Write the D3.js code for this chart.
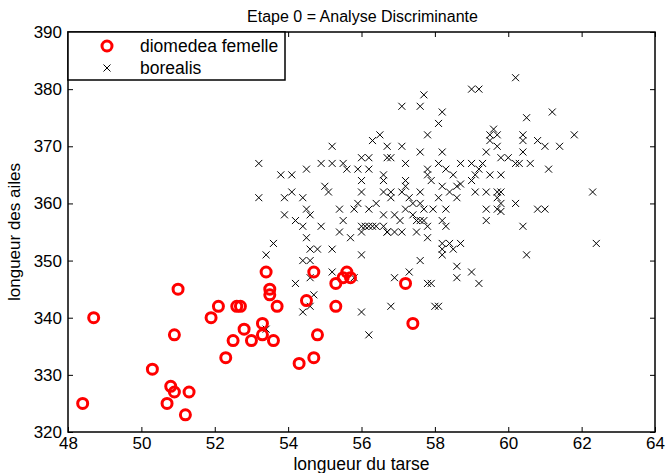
<!DOCTYPE html>
<html>
<head>
<meta charset="utf-8">
<script src="https://cdn.jsdelivr.net/npm/d3@7"></script>
<style>
  html, body { margin: 0; padding: 0; background: #fff; }
  svg { display: block; font-family: "Liberation Sans", Arial, sans-serif; }
</style>
</head>
<body>
<svg id="chart" width="667" height="473"></svg>
<script>
// Tarse length (x) and wing length (y) for the two groups
const femelleX = [48.4, 48.7, 50.3, 50.7, 50.8, 50.9, 50.9, 51.0, 51.2, 51.3, 51.9, 52.1, 52.3, 52.5, 52.6, 52.7, 52.8, 53.0, 53.3, 53.3, 53.4, 53.5, 53.5, 53.6, 53.7, 54.3, 54.5, 54.7, 54.7, 54.8, 55.3, 55.3, 55.5, 55.6, 55.7, 57.2, 57.4];
const femelleY = [325, 340, 331, 325, 328, 327, 337, 345, 323, 327, 340, 342, 333, 336, 342, 342, 338, 336, 339, 337, 348, 345, 344, 336, 342, 332, 343, 333, 348, 337, 346, 342, 347, 348, 347, 346, 339];

const borealisX = [
  56.5, 56.3, 55.2, 53.2, 54.9, 55.2, 55.5, 56.0, 56.2, 54.5, 53.8, 54.1, 55.6, 55.9, 56.2, 56.7, 56.7, 56.6,
  60.2, 59.0, 59.2, 57.7, 57.1, 57.6, 58.2, 58.1, 57.8, 59.6, 59.5, 59.7, 59.5, 59.7, 57.1, 56.8, 57.2, 57.6,
  58.2, 59.4, 59.8, 60.0, 58.1, 58.7, 59.0, 59.3, 60.2, 57.8, 57.8, 58.3, 58.5, 59.2, 59.1, 59.5, 59.8,
  61.2, 60.5, 61.8, 60.4, 60.4, 60.8, 61.0, 61.4, 60.4, 60.3, 60.6, 61.1,
  62.3, 59.8, 60.2, 60.8, 61.0, 60.4, 62.4, 60.5,
  56.0, 56.6, 55.0, 55.1, 56.0, 56.6, 53.2, 53.9, 54.1, 54.4, 55.9, 56.4, 54.5, 55.4, 55.8, 56.2, 53.9, 54.6,
  56.6, 54.2, 55.5, 54.4, 54.9, 56.0, 56.1, 56.2, 56.3, 56.4, 56.6, 56.7, 56.0, 55.4, 55.7, 54.5, 53.6, 54.6,
  54.8, 55.2, 53.4, 56.0, 54.4, 54.6, 55.2, 54.6, 55.8, 54.2, 54.7,
  57.6, 57.3, 58.2, 58.6, 58.6, 56.9, 57.8, 57.9, 54.6, 54.4, 56.0, 56.8, 58.0, 58.1, 56.2, 53.4,
  57.2, 57.2, 57.9, 59.0, 58.7, 58.6, 58.2, 56.8, 57.1, 57.6, 58.4, 59.1, 59.4, 59.7, 56.8, 57.3, 58.1, 58.6,
  59.7, 57.4, 57.6, 57.2, 57.7, 57.95, 58.3, 59.4, 59.7, 56.9, 57.4, 57.05, 57.5, 57.6, 57.7, 58.2, 59.4,
  57.8, 58.3, 56.7, 56.9, 57.1, 57.5, 57.8, 58.2, 58.4, 58.7, 58.2, 58.5, 59.0, 59.2, 59.8, 59.8
];
const borealisY = [
  372, 371, 370, 367, 367, 367, 367, 368, 368, 366, 365, 365, 366, 366, 366, 370, 368, 365,
  382, 380, 380, 379, 377, 377, 376, 374, 372, 373, 372, 372, 371, 370, 370, 368, 367, 369,
  369, 369, 368, 368, 367, 367, 367, 367, 367, 366, 365, 366, 365, 366, 365, 365, 365,
  376, 375, 372, 372, 371, 371, 370, 370, 369, 367, 367, 366,
  362, 360, 360, 359, 359, 356, 353, 351,
  364, 364, 363, 362, 362, 362, 361, 361, 362, 361, 360, 360, 359, 359, 359, 359, 358, 358,
  358, 357, 357, 356, 356, 356, 356, 356, 356, 356, 356, 355, 355, 355, 354, 354, 353, 352,
  352, 352, 351, 351, 350, 350, 348, 347, 347, 346, 344,
  350, 348, 351, 349, 347, 347, 346, 346, 342, 341, 341, 342, 342, 342, 337, 338,
  364, 363, 364, 364, 363.4, 363, 363, 362, 362, 362, 362, 362, 362, 362, 361, 361, 361, 361,
  361, 360, 360, 359, 359, 359, 359, 359, 359, 358, 358, 357, 357, 357, 357, 357, 357,
  356, 356, 355, 355, 355, 355, 354, 353, 353, 353, 352, 352, 348, 346, 362, 358.6
];

const xTicks = [48, 50, 52, 54, 56, 58, 60, 62, 64];
const yTicks = [320, 330, 340, 350, 360, 370, 380, 390];
const seriesNames = ["diomedea femelle", "borealis"];
const titleText = "Etape 0 = Analyse Discriminante";
const xLabel = "longueur du tarse";
const yLabel = "longueur des ailes";

const svg = d3.select("#chart");
const plotL = 68, plotR = 655, plotT = 32, plotB = 432;

const x = d3.scaleLinear().domain([48, 64]).range([plotL, plotR]);
const y = d3.scaleLinear().domain([320, 390]).range([plotB, plotT]);

// Inward ticks on all four sides, MATLAB-style boxed axes
const tickLen = 5;
const axG = svg.append("g");
axG.append("g").attr("transform", `translate(0,${plotB})`)
  .call(d3.axisBottom(x).tickValues(xTicks).tickSizeInner(-tickLen).tickSizeOuter(0).tickPadding(5).tickFormat(d3.format("d")));
axG.append("g").attr("transform", `translate(0,${plotT})`)
  .call(d3.axisTop(x).tickValues(xTicks).tickSizeInner(-tickLen).tickSizeOuter(0).tickFormat(""));
axG.append("g").attr("transform", `translate(${plotL},0)`)
  .call(d3.axisLeft(y).tickValues(yTicks).tickSizeInner(-tickLen).tickSizeOuter(0).tickPadding(6).tickFormat(d3.format("d")));
axG.append("g").attr("transform", `translate(${plotR},0)`)
  .call(d3.axisRight(y).tickValues(yTicks).tickSizeInner(-tickLen).tickSizeOuter(0).tickFormat(""));
axG.selectAll(".domain").remove();
axG.selectAll(".tick line").attr("stroke", "#000");
axG.selectAll(".tick text").attr("font-size", 17).attr("fill", "#000")
  .attr("font-family", "'Liberation Sans', Arial, sans-serif");

// Plot frame
svg.append("rect").attr("x", plotL).attr("y", plotT)
  .attr("width", plotR - plotL).attr("height", plotB - plotT)
  .attr("fill", "none").attr("stroke", "#000").attr("stroke-width", 1.5);

// borealis crosses
const cs = 3.5;
const crossPath = (cx, cy) => `M${cx - cs},${cy - cs}L${cx + cs},${cy + cs}M${cx - cs},${cy + cs}L${cx + cs},${cy - cs}`;
svg.append("g").selectAll("path")
  .data(d3.range(borealisX.length))
  .join("path")
  .attr("d", i => crossPath(x(borealisX[i]), y(borealisY[i])))
  .attr("stroke", "#000").attr("stroke-width", 1).attr("fill", "none");

// diomedea femelle circles
svg.append("g").selectAll("circle")
  .data(d3.range(femelleX.length))
  .join("circle")
  .attr("cx", i => x(femelleX[i]))
  .attr("cy", i => y(femelleY[i]))
  .attr("r", 5)
  .attr("fill", "none").attr("stroke", "#ff0000").attr("stroke-width", 3);

// Legend
const lg = svg.append("g");
lg.append("rect").attr("x", plotL).attr("y", plotT).attr("width", 217).attr("height", 48)
  .attr("fill", "#fff").attr("stroke", "#000").attr("stroke-width", 1.5);
lg.append("circle").attr("cx", 107).attr("cy", 46).attr("r", 5)
  .attr("fill", "none").attr("stroke", "#ff0000").attr("stroke-width", 3);
lg.append("path").attr("d", crossPath(107, 68)).attr("stroke", "#000").attr("stroke-width", 1);
lg.selectAll("text").data(seriesNames).join("text")
  .attr("x", 140).attr("y", (d, i) => 52 + i * 22)
  .attr("font-size", 17.5).attr("fill", "#000").text(d => d);

// Title and axis labels
svg.append("text").attr("x", (plotL + plotR) / 2 + 1).attr("y", 22)
  .attr("text-anchor", "middle").attr("font-size", 16).text(titleText);
svg.append("text").attr("x", (plotL + plotR) / 2).attr("y", 470)
  .attr("text-anchor", "middle").attr("font-size", 17.5).text(xLabel);
svg.append("text").attr("transform", `translate(20,${(plotT + plotB) / 2}) rotate(-90)`)
  .attr("text-anchor", "middle").attr("font-size", 17).text(yLabel);
</script>
</body>
</html>
